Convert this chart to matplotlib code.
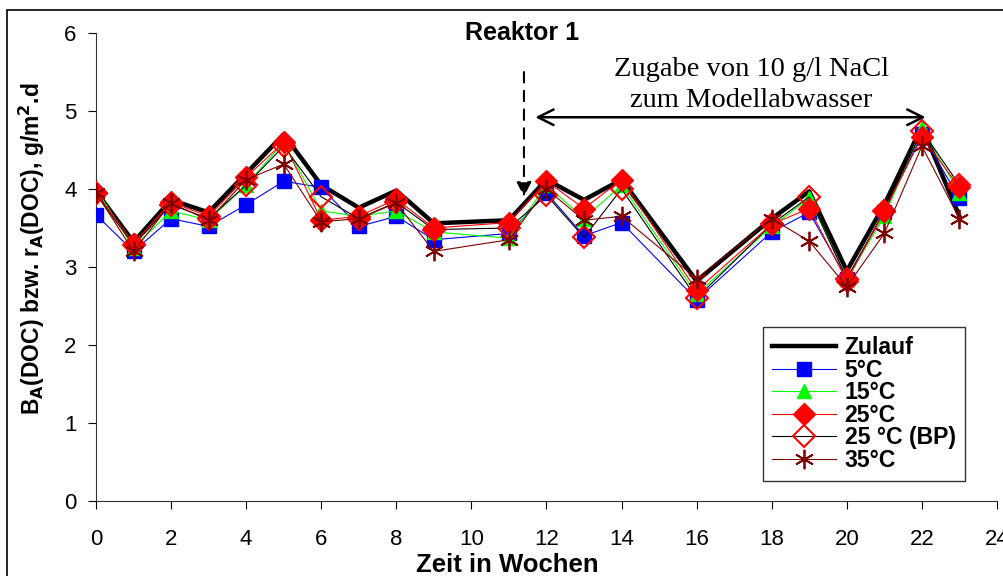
import matplotlib
matplotlib.use("Agg")
import matplotlib.pyplot as plt
from matplotlib.patches import Rectangle

# weeks with measurements
weeks = [0, 1, 2, 3, 4, 5, 6, 7, 8, 9, 11, 12, 13, 14, 16, 18, 19, 20, 21, 22, 23]

zulauf = [3.97, 3.32, 3.86, 3.70, 4.20, 4.70, 4.05, 3.76, 3.98, 3.56, 3.60,
          4.12, 3.86, 4.12, 2.82, 3.62, 3.97, 2.95, 3.80, 4.80, 3.65]
t5 = [3.67, 3.20, 3.62, 3.52, 3.80, 4.10, 4.02, 3.52, 3.65, 3.35, 3.43,
      3.95, 3.40, 3.57, 2.58, 3.45, 3.70, 2.85, 3.70, 4.70, 3.88]
t15 = [4.00, 3.25, 3.72, 3.60, 4.05, 4.60, 3.72, 3.65, 3.72, 3.45, 3.37,
       4.05, 3.62, 4.05, 2.65, 3.52, 3.88, 2.85, 3.65, 4.78, 3.95]
t25 = [3.95, 3.30, 3.83, 3.65, 4.15, 4.60, 3.60, 3.65, 3.87, 3.50, 3.57,
       4.10, 3.75, 4.12, 2.70, 3.55, 3.75, 2.82, 3.72, 4.67, 4.02]
t25bp = [3.95, 3.28, 3.80, 3.62, 4.05, 4.55, 3.90, 3.62, 3.83, 3.48, 3.50,
         3.92, 3.38, 4.00, 2.60, 3.55, 3.90, 2.85, 3.72, 4.75, 4.05]
t35 = [3.95, 3.20, 3.82, 3.60, 4.12, 4.32, 3.58, 3.62, 3.82, 3.20, 3.35,
       4.00, 3.60, 3.65, 2.85, 3.62, 3.33, 2.75, 3.43, 4.55, 3.62]

plt.rcParams["font.family"] = ["Liberation Sans", "DejaVu Sans"]

fig = plt.figure(figsize=(10.04, 5.76), dpi=100)
ax = fig.add_axes([0.0956, 0.1302, 0.8974, 0.8125])
fig.patches.append(Rectangle((0.007, -0.1), 1.2, 1.083, transform=fig.transFigure,
                             fill=False, ec="black", lw=1.2))

ax.plot(weeks, zulauf, color="black", lw=3.2, label="Zulauf", zorder=2)
ax.plot(weeks, t5, color="#0000ff", lw=0.8, marker="s", ms=9.5, mec="#0000ff",
        label="5°C", zorder=3)
ax.plot(weeks, t15, color="#00ff00", lw=0.8, marker="^", ms=10, mec="#00ff00",
        label="15°C", zorder=3)
ax.plot(weeks, t25bp, color="black", lw=0.8, marker="D", ms=11, mfc="none",
        mec="#ff0000", mew=1.5, label="25 °C (BP)", zorder=4)
ax.plot(weeks, t25, color="#ff0000", lw=0.8, marker="D", ms=11, mec="#ff0000",
        label="25°C", zorder=4)
ax.plot(weeks, t35, color="#800000", lw=0.8, marker=(6, 2, 0), ms=14, mec="#800000",
        mew=1.3, label="35°C", zorder=5)

ax.set_xlim(0, 24)
ax.set_ylim(0, 6)
ax.set_xticks(range(0, 25, 2))
ax.set_yticks(range(0, 7))
ax.spines["top"].set_visible(False)
ax.spines["right"].set_visible(False)
ax.tick_params(axis="y", direction="out", length=6, labelsize=16, pad=8)
ax.tick_params(axis="x", direction="out", length=6, labelsize=16, pad=14)
for s in ("left", "bottom"):
    ax.spines[s].set_color("#333333")

ax.set_xlabel("Zeit in Wochen", fontsize=18.5, fontweight="bold")
ax.xaxis.set_label_coords(0.456, -0.112)
ax.set_ylabel(r"B$_\mathbf{A}$(DOC) bzw. r$_\mathbf{A}$(DOC), g/m$^\mathbf{2}$.d",
              fontsize=16.5, fontweight="bold")
ax.yaxis.set_label_coords(-0.054, 0.54)

ax.text(11.35, 6.0, "Reaktor 1", fontsize=18, fontweight="bold", ha="center", va="center")
ax.text(17.45, 5.53, "Zugabe von 10 g/l NaCl", fontsize=20.5, family="Liberation Serif",
        ha="center", va="center")
ax.text(17.45, 5.14, "zum Modellabwasser", fontsize=20.5, family="Liberation Serif",
        ha="center", va="center")
ax.annotate("", xy=(11.7, 4.92), xytext=(22.1, 4.92),
            arrowprops=dict(arrowstyle="<->", lw=1.8, color="black",
                            mutation_scale=28, shrinkA=0, shrinkB=0))
ax.annotate("", xy=(11.4, 3.9), xytext=(11.4, 5.5),
            arrowprops=dict(arrowstyle="-|>", lw=1.5, ls=(0, (5, 4)), color="black",
                            mutation_scale=22, shrinkA=0, shrinkB=0))

# legend order as in the reference
h, l = ax.get_legend_handles_labels()
order = ["Zulauf", "5°C", "15°C", "25°C", "25 °C (BP)", "35°C"]
hmap = dict(zip(l, h))
leg = ax.legend([hmap[k] for k in order], order, loc="upper left",
                bbox_to_anchor=(0.740, 0.372), borderaxespad=0,
                frameon=True, fancybox=False, edgecolor="black",
                handlelength=2.8, handletextpad=0.35, labelspacing=-0.02,
                borderpad=0.4, prop={"weight": "bold", "size": 16.6})
leg.get_frame().set_linewidth(1.0)

fig.savefig("out.png", dpi=100)
